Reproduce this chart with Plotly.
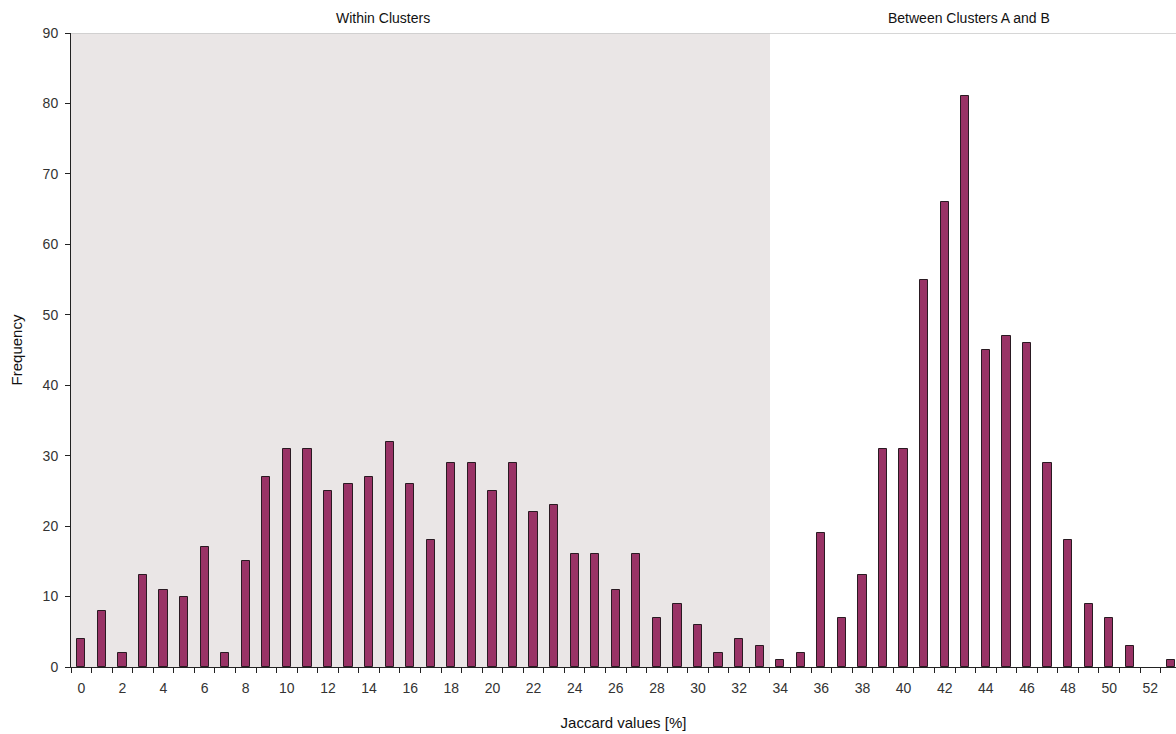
import plotly.graph_objects as go

jaccard = list(range(0, 54))
frequency = [4, 8, 2, 13, 11, 10, 17, 2, 15, 27,
             31, 31, 25, 26, 27, 32, 26, 18, 29, 29,
             25, 29, 22, 23, 16, 16, 11, 16, 7, 9,
             6, 2, 4, 3, 1, 2, 19, 7, 13, 31,
             31, 55, 66, 81, 45, 47, 46, 29, 18, 9,
             7, 3, 0, 1]
section_labels = ["Within Clusters", "Between Clusters A and B"]
x_ticks = list(range(0, 54, 2))
y_ticks = list(range(0, 91, 10))

fig = go.Figure()
fig.add_trace(go.Bar(
    x=jaccard, y=frequency, width=0.4,
    marker=dict(color="#993366",
                line=dict(color="#2a1a22", width=[1 if v > 0 else 0 for v in frequency])),
))

fig.add_shape(type="rect", xref="x", yref="y", x0=-0.5, x1=33.5, y0=0, y1=90,
              fillcolor="#EAE6E6", line=dict(width=0), layer="below")
fig.add_shape(type="line", xref="paper", yref="y", x0=0, x1=1, y0=90, y1=90,
              line=dict(color="#c8c8c8", width=1.5), layer="above")

fig.add_annotation(x=14.7, y=1, xref="x", yref="paper", yanchor="bottom", yshift=5,
                   text=section_labels[0], showarrow=False,
                   font=dict(size=14, color="#111"))
fig.add_annotation(x=43.2, y=1, xref="x", yref="paper", yanchor="bottom", yshift=5,
                   text=section_labels[1], showarrow=False,
                   font=dict(size=14, color="#111"))

fig.update_layout(
    width=1176, height=734,
    margin=dict(l=71, r=0, t=33, b=67, autoexpand=False),
    paper_bgcolor="white", plot_bgcolor="white",
    showlegend=False,
    font=dict(family="Liberation Sans, Arial, sans-serif", size=14, color="#222"),
    bargap=0,
)
fig.update_xaxes(
    range=[-0.5, 53.25], tickmode="array", tickvals=x_ticks,
    ticktext=[str(v) for v in x_ticks], ticks="", showgrid=False, zeroline=False,
    showline=True, linecolor="#222", linewidth=1, automargin=False,
    minor=dict(tick0=-0.5, dtick=1, ticks="outside", ticklen=5, tickcolor="#222", showgrid=False),
    ticklabelstandoff=8,
    title=dict(text="Jaccard values [%]", font=dict(size=15, color="#111"), standoff=22),
    tickfont=dict(size=14, color="#333"),
)
fig.update_yaxes(
    range=[0, 90], tickmode="array", tickvals=y_ticks, ticks="outside", ticklen=5,
    tickcolor="#222", showgrid=False, zeroline=False, automargin=False,
    showline=True, linecolor="#222", linewidth=1, ticklabelstandoff=4,
    title=dict(text="Frequency", font=dict(size=15, color="#111"), standoff=16),
    tickfont=dict(size=14, color="#333"),
)

fig.write_html("out.html", config={"displayModeBar": False},
               post_script="document.body.style.margin='0';document.body.style.overflow='hidden';")
